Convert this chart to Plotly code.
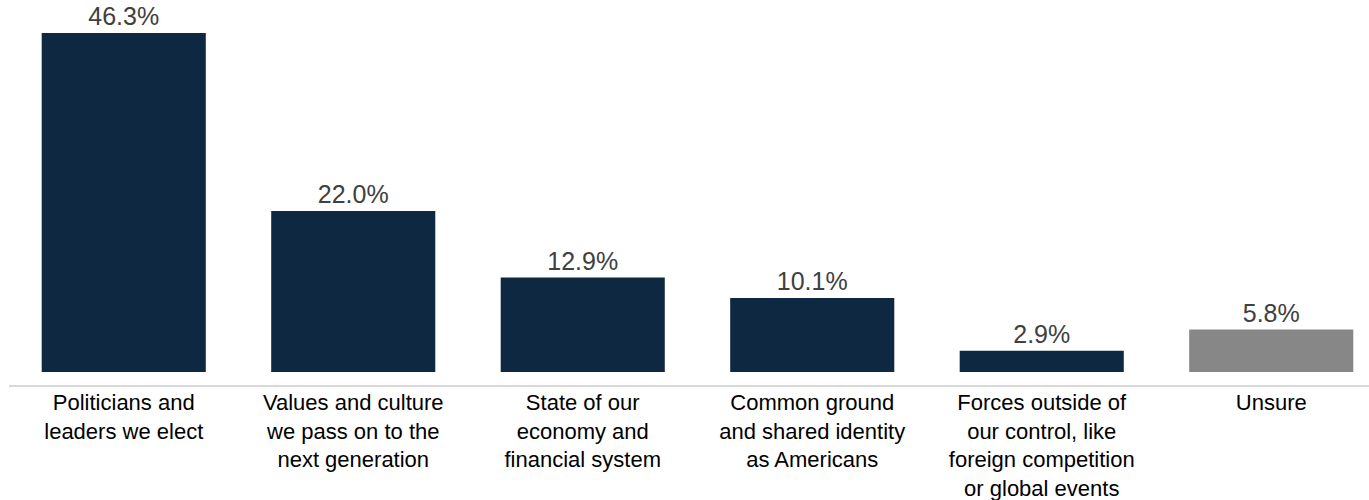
import plotly.graph_objects as go

categories = [
    "Politicians and<br>leaders we elect",
    "Values and culture<br>we pass on to the<br>next generation",
    "State of our<br>economy and<br>financial system",
    "Common ground<br>and shared identity<br>as Americans",
    "Forces outside of<br>our control, like<br>foreign competition<br>or global events",
    "Unsure",
]
values = [46.3, 22.0, 12.9, 10.1, 2.9, 5.8]
colors = ["#0E2841", "#0E2841", "#0E2841", "#0E2841", "#0E2841", "#878787"]

xpos = list(range(len(categories)))

fig = go.Figure()
fig.add_trace(go.Bar(
    x=xpos,
    y=values,
    width=0.715,
    marker=dict(color=colors, line=dict(width=0)),
    text=[f"{v:.1f}%" for v in values],
    textposition="outside",
    textfont=dict(family="Liberation Sans, Arial", size=25, color="#404040"),
    cliponaxis=False,
    hoverinfo="skip",
))

fig.update_layout(
    width=1369, height=500,
    margin=dict(l=9, r=0, t=8, b=114, autoexpand=False),
    plot_bgcolor="white", paper_bgcolor="white",
    showlegend=False,
    xaxis=dict(
        range=[-0.5, 5.426],
        tickvals=xpos,
        ticktext=categories,
        showgrid=False, zeroline=False, showline=False,
        automargin=False,
        ticks="", tickfont=dict(family="Liberation Sans, Arial", size=22, color="#000000"),
        ticklabelstandoff=1,
    ),
    yaxis=dict(
        range=[-1.91, 49.71],
        visible=False,
    ),
    shapes=[dict(type="line", xref="paper", yref="paper", x0=0, x1=1, y0=0, y1=0,
                 line=dict(color="#D9D9D9", width=2))],
)

fig.write_html(
    "out.html",
    config={"displayModeBar": False},
    post_script="document.body.style.margin='0';document.body.style.overflow='hidden';",
)
